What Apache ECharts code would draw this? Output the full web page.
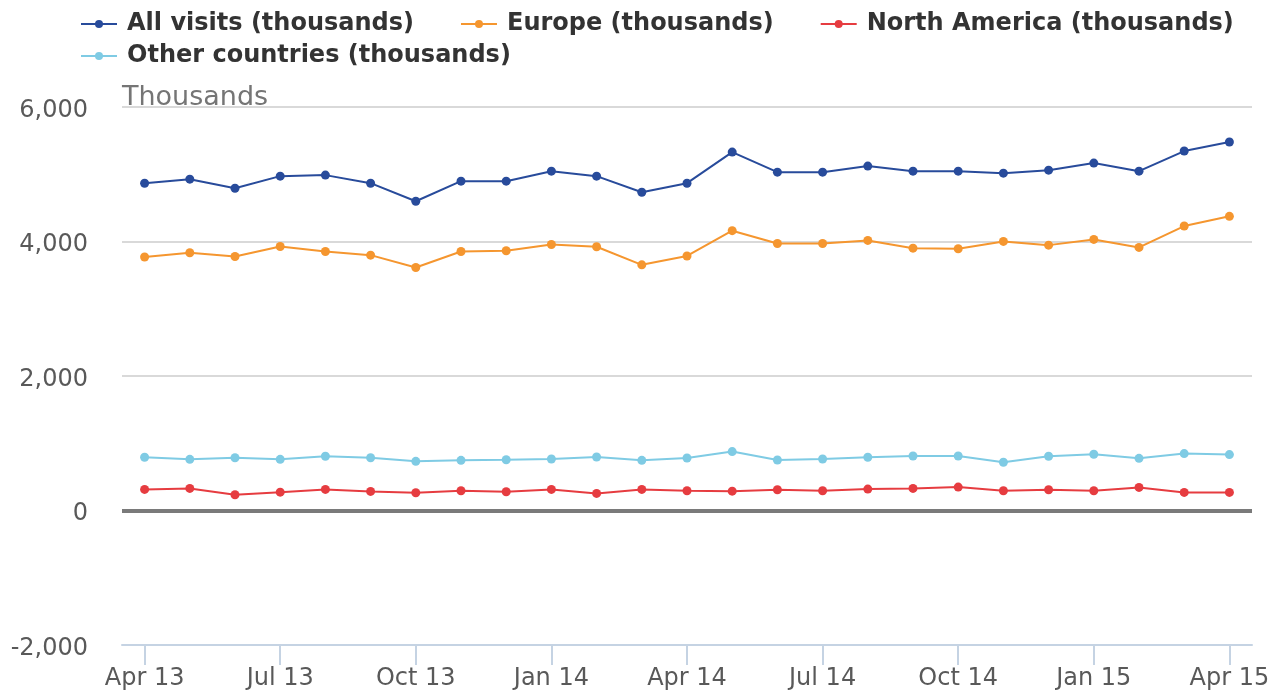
<!DOCTYPE html>
<html>
<head>
<meta charset="utf-8">
<script src="https://cdn.jsdelivr.net/npm/echarts@6/dist/echarts.min.js"></script>
<style>
html,body{margin:0;padding:0;background:#fff;}
#chart{width:1276px;height:691px;}
</style>
</head>
<body>
<div id="chart"></div>
<script>
var months = ['Apr 13','May 13','Jun 13','Jul 13','Aug 13','Sep 13','Oct 13','Nov 13','Dec 13',
  'Jan 14','Feb 14','Mar 14','Apr 14','May 14','Jun 14','Jul 14','Aug 14','Sep 14','Oct 14','Nov 14','Dec 14',
  'Jan 15','Feb 15','Mar 15','Apr 15'];
var seriesNames = ['All visits (thousands)','Europe (thousands)','North America (thousands)','Other countries (thousands)'];
var allVisits = [4867,4927,4792,4972,4987,4867,4598,4897,4897,5046,4972,4733,4867,5330,5031,5031,5121,5046,5046,5016,5061,5166,5046,5345,5479];
var europe = [3770,3833,3777,3926,3852,3797,3613,3852,3862,3956,3922,3653,3785,4161,3971,3971,4016,3901,3892,4001,3946,4031,3912,4230,4374];
var northAmerica = [314,328,234,273,314,284,264,294,279,314,254,314,294,288,309,294,318,328,348,294,309,294,343,269,269];
var otherCountries = [791,761,784,761,806,784,731,746,754,766,796,746,781,876,751,766,791,811,811,717,806,836,776,846,831];
var yTicks = {min:-2000, max:6000, interval:2000};
var colors = ['#284b9b','#f5962f','#e63c40','#7fcbe4'];

var font = 'DejaVu Sans';
function mk(name, data, color, extra){
  var s = {
    name: name, type: 'line', data: data,
    symbol: 'circle', symbolSize: 9,
    itemStyle: {color: color},
    lineStyle: {color: color, width: 2},
    z: 3
  };
  if (extra) Object.assign(s, extra);
  return s;
}
var chart = echarts.init(document.getElementById('chart'), null, {renderer:'canvas'});
var legendText = {fontFamily: font, fontWeight: 'bold', fontSize: 24, color: '#333333', padding:[0,0,0,5]};
chart.setOption({
  animation: false,
  color: colors,
  legend: [{
    data: seriesNames.slice(0,3),
    left: 75, top: 7,
    itemWidth: 36, itemHeight: 10, itemGap: 46,
    textStyle: legendText
  },{
    data: seriesNames.slice(3),
    left: 75, top: 39,
    itemWidth: 36, itemHeight: 10,
    textStyle: legendText
  }],
  grid: {left: 122, right: 24, top: 107, bottom: 46, containLabel: false},
  xAxis: {
    type: 'category', data: months, boundaryGap: true,
    axisLine: {show: true, onZero: false, lineStyle: {color: '#c5d3e3', width: 2}},
    axisTick: {show: true, interval: 2, alignWithLabel: true, length: 20, lineStyle: {color: '#c5d3e3', width: 2}},
    axisLabel: {interval: 2, margin: 22, fontFamily: font, fontSize: 24, color: '#595959'},
    splitLine: {show: false}
  },
  yAxis: {
    type: 'value', min: yTicks.min, max: yTicks.max, interval: yTicks.interval,
    name: 'Thousands', nameLocation: 'end', nameGap: -4,
    nameTextStyle: {align: 'left', fontFamily: font, fontSize: 27, color: '#757575'},
    axisLine: {show: false}, axisTick: {show: false},
    axisLabel: {margin: 34, fontFamily: font, fontSize: 24, color: '#595959',
      formatter: function(v){ return '{a|' + v.toLocaleString('en-US') + '}'; },
      rich: {a: {fontFamily: font, fontSize: 24, color: '#595959', padding: [7,0,0,0]}}},
    splitLine: {show: true, lineStyle: {color: '#d9d9d9', width: 2}}
  },
  series: [
    mk(seriesNames[0], allVisits, colors[0], {
      markLine: {silent: true, symbol: 'none', label: {show: false},
        lineStyle: {color: '#7a7a7a', width: 4, type: 'solid'},
        data: [{yAxis: 0}], z: 2}
    }),
    mk(seriesNames[1], europe, colors[1]),
    mk(seriesNames[2], northAmerica, colors[2]),
    mk(seriesNames[3], otherCountries, colors[3])
  ]
});
</script>
</body>
</html>
